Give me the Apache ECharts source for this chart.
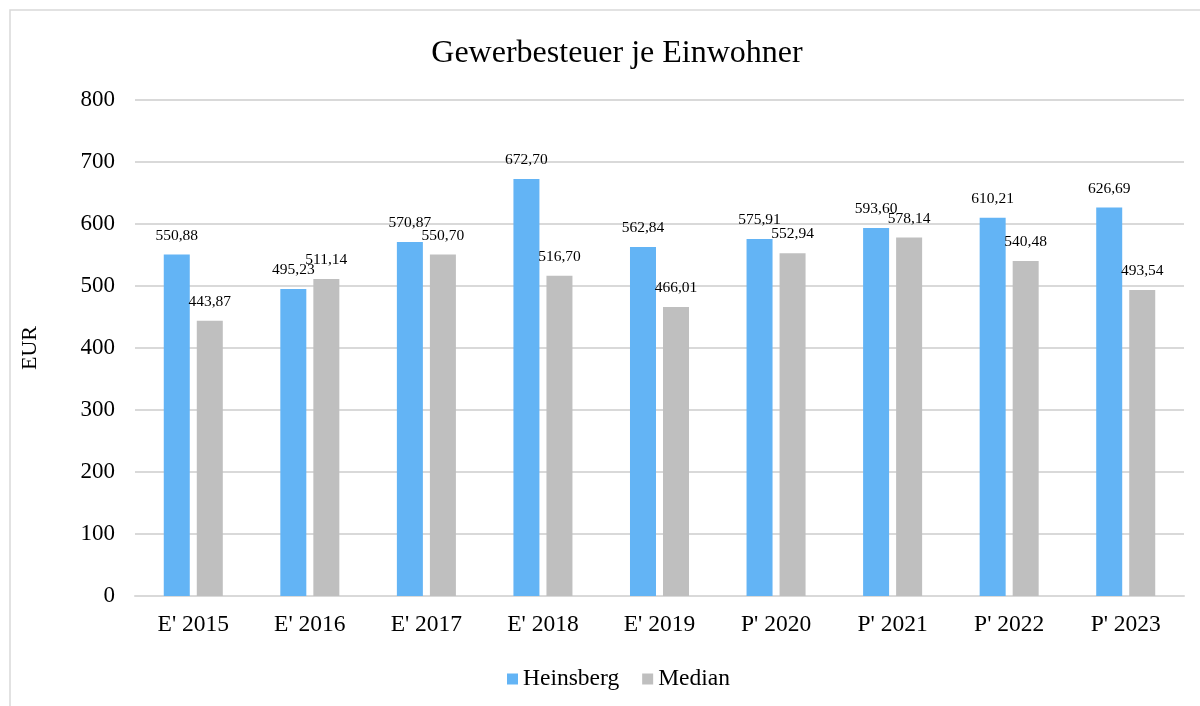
<!DOCTYPE html>
<html>
<head>
<meta charset="utf-8">
<script src="https://cdn.jsdelivr.net/npm/echarts@6/dist/echarts.min.js"></script>
<style>
  html, body { margin: 0; padding: 0; background: #fff; }
  #chart { width: 1200px; height: 706px; }
</style>
</head>
<body>
<div id="chart"></div>
<script>
// data
var categories = ["E' 2015", "E' 2016", "E' 2017", "E' 2018", "E' 2019", "P' 2020", "P' 2021", "P' 2022", "P' 2023"];
var heinsberg = [550.88, 495.23, 570.87, 672.70, 562.84, 575.91, 593.60, 610.21, 626.69];
var median = [443.87, 511.14, 550.70, 516.70, 466.01, 552.94, 578.14, 540.48, 493.54];

var serif = "'Liberation Serif', 'DejaVu Serif', serif";

function fmt(p) {
  return p.value.toFixed(2).replace('.', ',');
}

var chart = echarts.init(document.getElementById('chart'));
chart.setOption({
  animation: false,
  textStyle: { fontFamily: serif },
  graphic: [{
    type: 'rect',
    shape: { x: 10, y: 10, width: 1200, height: 720 },
    style: { fill: 'none', stroke: '#d9d9d9', lineWidth: 1.5 },
    silent: true
  }],
  title: {
    text: 'Gewerbesteuer je Einwohner',
    left: 612,
    top: 33,
    textAlign: 'center',
    textStyle: { fontFamily: serif, fontSize: 32, fontWeight: 'normal', color: '#000' }
  },
  legend: {
    data: ['Heinsberg', 'Median'],
    left: 502,
    top: 662,
    itemWidth: 11,
    itemHeight: 11,
    itemGap: 23,
    icon: 'rect',
    textStyle: { fontFamily: serif, fontSize: 23.5, color: '#000' }
  },
  grid: { left: 135, right: 16, top: 100, bottom: 110 },
  xAxis: {
    type: 'category',
    data: categories,
    axisLine: { lineStyle: { color: '#d9d9d9', width: 2 } },
    axisTick: { show: false },
    axisLabel: { fontFamily: serif, fontSize: 23.5, color: '#000', margin: 17 }
  },
  yAxis: {
    type: 'value',
    min: 0,
    max: 800,
    interval: 100,
    name: 'EUR',
    nameLocation: 'middle',
    nameGap: 94,
    nameRotate: 90,
    nameTextStyle: { fontFamily: serif, fontSize: 22, color: '#000' },
    axisLine: { show: false },
    axisTick: { show: false },
    splitLine: { lineStyle: { color: '#d9d9d9', width: 2 } },
    axisLabel: { fontFamily: serif, fontSize: 23, color: '#000', margin: 20 }
  },
  series: [
    {
      name: 'Heinsberg',
      type: 'bar',
      data: heinsberg,
      barWidth: 26,
      barGap: '27%',
      itemStyle: { color: '#63b4f5' },
      label: { show: true, position: 'top', distance: 11, formatter: fmt, fontFamily: serif, fontSize: 15.5, color: '#000' }
    },
    {
      name: 'Median',
      type: 'bar',
      data: median,
      barWidth: 26,
      itemStyle: { color: '#bfbfbf' },
      label: { show: true, position: 'top', distance: 11, formatter: fmt, fontFamily: serif, fontSize: 15.5, color: '#000' }
    }
  ]
});
</script>
</body>
</html>
